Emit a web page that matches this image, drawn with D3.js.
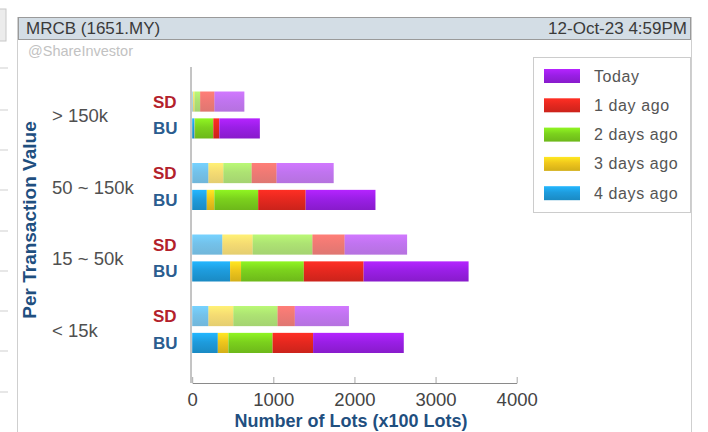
<!DOCTYPE html>
<html>
<head>
<meta charset="utf-8">
<script src="https://cdn.jsdelivr.net/npm/d3@7"></script>
<style>
  html, body { margin: 0; padding: 0; background: #fff; }
  svg { display: block; font-family: "Liberation Sans", Arial, sans-serif; }
</style>
</head>
<body>
<div id="chart"></div>
<script>
// 1 - Données
const categories = ["> 150k", "50 ~ 150k", "15 ~ 50k", "< 15k"];
const sides = ["SD", "BU"];
const seriesNames = ["4 days ago", "3 days ago", "2 days ago", "1 day ago", "Today"];
const legendOrder = ["Today", "1 day ago", "2 days ago", "3 days ago", "4 days ago"];
const xTicks = [0, 1000, 2000, 3000, 4000];

// valeurs par ligne : >150k SD, >150k BU, 50~150k SD, BU, 15~50k SD, BU, <15k SD, BU
const fourDaysAgo = [8, 30, 200, 180, 372, 467, 200, 316];
const threeDaysAgo = [20, 5, 184, 93, 373, 135, 307, 130];
const twoDaysAgo = [70, 225, 349, 540, 737, 774, 545, 545];
const oneDayAgo = [176, 74, 307, 586, 397, 737, 213, 499];
const today = [369, 500, 704, 860, 770, 1294, 667, 1118];

const colors = {
	"Today": "#9a1fe6",
	"1 day ago": "#e6281f",
	"2 days ago": "#7bd11d",
	"3 days ago": "#efc61c",
	"4 days ago": "#1e9cdd"
};

// 2 - Tableau d'objets
let rows = [];
categories.forEach((c, ci) => {
	sides.forEach((s, si) => {
		const i = ci * 2 + si;
		rows.push({
			cat: c,
			side: s,
			"4 days ago": fourDaysAgo[i],
			"3 days ago": threeDaysAgo[i],
			"2 days ago": twoDaysAgo[i],
			"1 day ago": oneDayAgo[i],
			"Today": today[i]
		});
	});
});
const stacked = d3.stack().keys(seriesNames)(rows);

// 3 - Dessin
const W = 708, H = 432;
const svg = d3.select("#chart").append("svg")
	.attr("width", W)
	.attr("height", H);

const defs = svg.append("defs");
seriesNames.forEach((name, i) => {
	const base = d3.color(colors[name]);
	const g = defs.append("linearGradient")
		.attr("id", "grad" + i)
		.attr("x1", 0).attr("y1", 0).attr("x2", 0).attr("y2", 1);
	g.append("stop").attr("offset", "0%").attr("stop-color", base.brighter(0.45));
	g.append("stop").attr("offset", "45%").attr("stop-color", base);
	g.append("stop").attr("offset", "100%").attr("stop-color", base.darker(0.35));
});

// 3.1 - Bord gauche (page découpée)
svg.append("rect")
	.attr("x", -2).attr("y", 9).attr("width", 8).attr("height", 32)
	.attr("fill", "#ececec").attr("stroke", "#c8c8c8");
[68, 110, 150, 190, 231, 271, 311, 351, 392].forEach((yy) => {
	svg.append("line")
		.attr("x1", 0).attr("x2", 8).attr("y1", yy).attr("y2", yy)
		.attr("stroke", "#cfcfcf");
});

// 3.2 - Panneau + entête
svg.append("rect")
	.attr("x", 17.5).attr("y", 17.5).attr("width", 674).attr("height", 430)
	.attr("fill", "#fff").attr("stroke", "#cfcfcf");
svg.append("rect")
	.attr("x", 18.5).attr("y", 17.5).attr("width", 672).attr("height", 22)
	.attr("fill", "#d3dde5").attr("stroke", "#9a9a9a");
svg.append("text")
	.attr("x", 26).attr("y", 34)
	.attr("font-size", 17).attr("fill", "#3a3a3a")
	.text("MRCB (1651.MY)");
svg.append("text")
	.attr("x", 687).attr("y", 34)
	.attr("text-anchor", "end")
	.attr("font-size", 17).attr("fill", "#3a3a3a")
	.text("12-Oct-23 4:59PM");
svg.append("text")
	.attr("x", 28).attr("y", 56)
	.attr("font-size", 14.5).attr("fill", "#c2c2c2")
	.text("@ShareInvestor");

// 3.3 - Échelles
const x = d3.scaleLinear().domain([0, 4000]).range([192.2, 516.7]);
const yGroup = d3.scaleBand().domain(categories).range([79.5, 365.5]);
const ySide = d3.scaleBand().domain(sides).range([12, 59]).paddingInner(0.25);
const axisY = 383;

// 3.4 - Barres empilées
const layers = svg.append("g").selectAll("g")
	.data(stacked)
	.join("g")
	.attr("fill", (d, i) => "url(#grad" + i + ")");

layers.selectAll("rect")
	.data((d) => d)
	.join("rect")
	.attr("x", (d) => x(d[0]))
	.attr("y", (d) => yGroup(d.data.cat) + ySide(d.data.side))
	.attr("width", (d) => x(d[1]) - x(d[0]))
	.attr("height", ySide.bandwidth())
	.attr("opacity", (d) => d.data.side == "SD" ? 0.62 : 1);

// 3.5 - Axes
svg.append("line")
	.attr("x1", 191).attr("x2", 191)
	.attr("y1", 67).attr("y2", axisY)
	.attr("stroke", "#8a8a8a");

const xAxis = svg.append("g")
	.attr("transform", "translate(0," + axisY + ")")
	.call(d3.axisBottom(x)
		.tickValues(xTicks)
		.tickSizeInner(-6)
		.tickSizeOuter(0)
		.tickPadding(10)
		.tickFormat(d3.format("d")));
xAxis.select(".domain").attr("stroke", "#8a8a8a");
xAxis.selectAll(".tick line").attr("stroke", "#a8a8a8");
xAxis.selectAll(".tick text")
	.attr("font-size", 18.5)
	.attr("fill", "#444")
	.attr("font-family", "Liberation Sans, Arial, sans-serif");

svg.append("text")
	.attr("x", 351).attr("y", 427)
	.attr("text-anchor", "middle")
	.attr("font-size", 18).attr("font-weight", "bold").attr("fill", "#1f4f7f")
	.text("Number of Lots (x100 Lots)");

svg.append("text")
	.attr("transform", "translate(36,220) rotate(-90)")
	.attr("text-anchor", "middle")
	.attr("font-size", 19).attr("font-weight", "bold").attr("fill", "#1f4f7f")
	.text("Per Transaction Value");

// 3.6 - Étiquettes catégories + SD/BU
svg.append("g").selectAll("text")
	.data(categories)
	.join("text")
	.attr("x", 52)
	.attr("y", (d) => yGroup(d) + yGroup.bandwidth() / 2 + 7)
	.attr("font-size", 18.5).attr("fill", "#505050")
	.text((d) => d);

svg.append("g").selectAll("text")
	.data(rows)
	.join("text")
	.attr("x", 153)
	.attr("y", (d) => yGroup(d.cat) + ySide(d.side) + ySide.bandwidth() / 2 + 6)
	.attr("font-size", 17).attr("font-weight", "bold")
	.attr("fill", (d) => d.side == "SD" ? "#b3212b" : "#2a5d8f")
	.text((d) => d.side);

// 3.7 - Légende
svg.append("rect")
	.attr("x", 533.5).attr("y", 57.5).attr("width", 157).attr("height", 155)
	.attr("fill", "#fff").attr("stroke", "#cccccc");

const legend = svg.append("g").selectAll("g")
	.data(legendOrder)
	.join("g")
	.attr("transform", (d, i) => "translate(544," + (76 + i * 29.3) + ")");

legend.append("rect")
	.attr("x", 0).attr("y", -7).attr("width", 36).attr("height", 14)
	.attr("fill", (d) => "url(#grad" + seriesNames.indexOf(d) + ")");
legend.append("text")
	.attr("x", 50).attr("y", 5.5)
	.attr("font-size", 16).attr("letter-spacing", 0.6).attr("fill", "#555")
	.text((d) => d);
</script>
</body>
</html>
